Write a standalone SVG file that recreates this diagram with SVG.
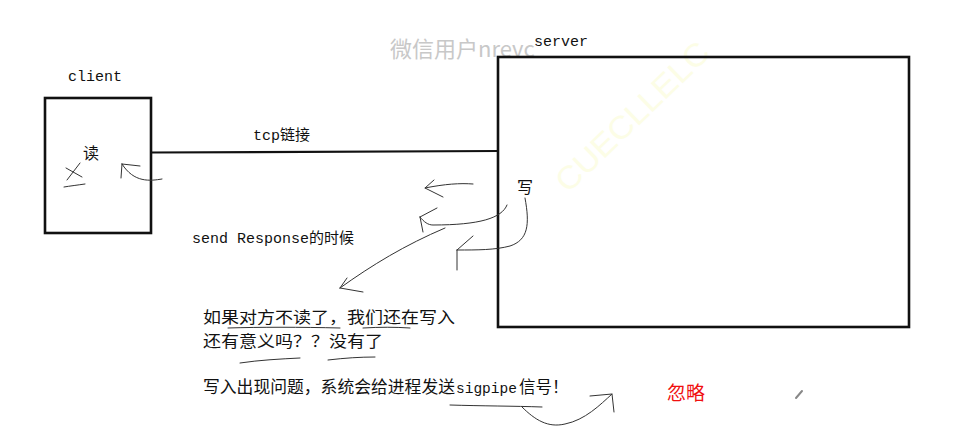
<svg xmlns="http://www.w3.org/2000/svg" width="969" height="447" viewBox="0 0 969 447">
<style>
.box{fill:none;stroke:#111;stroke-width:2.6}
.lbl{font-family:"Liberation Mono","Noto Sans CJK SC",monospace;fill:#111}
.cn{font-family:"Noto Sans CJK SC",sans-serif;fill:#111}
.pen{fill:none;stroke:#333;stroke-width:1;stroke-linecap:round}
</style>
<rect width="969" height="447" fill="#fff"/>
<text x="390" y="57" font-family="'Noto Sans CJK SC',sans-serif" font-size="22" fill="#c8c8c8">微信用户nrevc</text>
<text x="0" y="0" transform="translate(568,194) rotate(-44)" font-family="'Liberation Sans',sans-serif" font-size="32" fill="#fcfde6" textLength="200" lengthAdjust="spacingAndGlyphs">CUECLLELC</text>
<g id="client">
<text class="lbl" x="68" y="81" font-size="15">client</text>
<rect class="box" x="45" y="98" width="106" height="135"/>
<text class="cn" x="83" y="159" font-size="16">读</text>
<path class="pen" d="M66,168 L82,177 M80,163 L67,180 M64,187 C70,186 78,185 85,184"/>
</g>
<g id="server">
<text class="lbl" x="534" y="46" font-size="15">server</text>
<rect class="box" x="498" y="57" width="411" height="270"/>
<text class="cn" x="517" y="193" font-size="16">写</text>
</g>
<g id="connectors">
<line x1="151" y1="152.5" x2="498" y2="151" stroke="#111" stroke-width="2.2"/>
<path class="pen" d="M162,179 C150,181 134,183 122,164 M122,164 L140,166 M122,164 L121,178"/>
<path class="pen" d="M473,184 C460,183 445,184 425,188 M434,180 L425,188 L443,197"/>
<path class="pen" d="M507,205 C502,218 480,225 433,225 C428,225 424,222 420,217 M420,217 L437,208 M420,217 L423,232"/>
<path class="pen" d="M525,198 C530,225 528,240 510,246 C495,250 478,250 457,250 M457,250 L473,236 M457,250 L457,270"/>
<path class="pen" d="M445,228 C405,245 372,265 340,288 M340,288 L347,278 M340,288 L363,292"/>
<path class="pen" d="M450,405 C480,406 515,406 542,407 M522,407 C535,420 548,428 565,424 C585,420 600,405 612,394 M590,396 L612,394 L614,412"/>
<path class="pen" d="M228,328 C260,327 300,327 340,328 M363,328 C380,327 395,327 410,328 M240,363 C260,360 280,359 300,358 M328,360 C345,358 360,357 375,357"/>
<path d="M796,398 L802,391" stroke="#888" stroke-width="2" stroke-linecap="round"/>
</g>
<g id="notes">
<text class="lbl" x="253" y="140" font-size="15">tcp链接</text>
<text class="lbl" x="192" y="243" font-size="15">send Response的时候</text>
<text class="cn" x="203" y="323" font-size="16" textLength="252" lengthAdjust="spacingAndGlyphs">如果对方不读了，我们还在写入</text>
<text class="cn" x="203" y="347" font-size="16" textLength="180" lengthAdjust="spacingAndGlyphs">还有意义吗？？没有了</text>
<text class="cn" x="203" y="393" font-size="16.5" textLength="252" lengthAdjust="spacingAndGlyphs">写入出现问题，系统会给进程发送</text>
<text class="lbl" x="456" y="393" font-size="14.5">sigpipe</text>
<text class="cn" x="519" y="393" font-size="16.5">信号！</text>
<text x="667" y="400" font-family="'Noto Sans CJK SC',sans-serif" font-size="19" fill="#f01010">忽略</text>
</g>
</svg>
